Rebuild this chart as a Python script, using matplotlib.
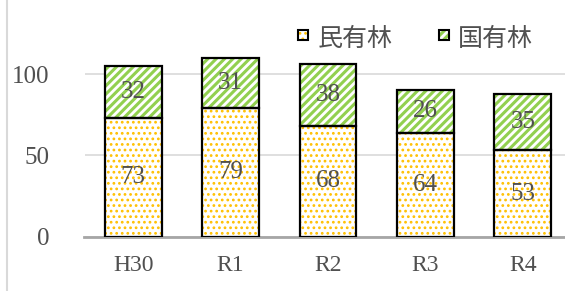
import matplotlib
matplotlib.use('Agg')
import matplotlib.pyplot as plt
from matplotlib.patches import Rectangle
from matplotlib.lines import Line2D

categories = ['H30', 'R1', 'R2', 'R3', 'R4']
private = [73, 79, 68, 64, 53]
national = [32, 31, 38, 26, 35]
series_names = ['民有林', '国有林']

plt.rcParams['font.family'] = ['Liberation Serif', 'Noto Sans CJK JP']

TXT = '#505050'
YEL = '#FFC000'
GRN = '#92D050'
DOT_LW = 1.2
STRIPE_LW = 2.2

W, H = 565, 291
fig = plt.figure(figsize=(W / 100, H / 100), dpi=100)
left, right, bottom, top = 84.5, 571.5, 236.7, 41.5
ax = fig.add_axes([left / W, 1 - bottom / H, (right - left) / W, (bottom - top) / H])


def set_hlw(patches, lw):
    for p in patches:
        if hasattr(p, 'set_hatch_linewidth'):
            p.set_hatch_linewidth(lw)
        p._hatch_linewidth = lw


x = list(range(len(categories)))
bw = 0.585
plt.rcParams['hatch.linewidth'] = DOT_LW
b1 = ax.bar(x, private, bw, color='white', edgecolor=YEL, hatch='...', linewidth=0, zorder=3)
set_hlw(b1.patches, DOT_LW)
plt.rcParams['hatch.linewidth'] = STRIPE_LW
b2 = ax.bar(x, national, bw, bottom=private, color='white', edgecolor=GRN, hatch='////', linewidth=0, zorder=3)
set_hlw(b2.patches, STRIPE_LW)
ax.bar(x, private, bw, fill=False, edgecolor='black', linewidth=1.6, zorder=4)
ax.bar(x, national, bw, bottom=private, fill=False, edgecolor='black', linewidth=1.6, zorder=4)

for i in x:
    ax.text(i, private[i] / 2, str(private[i]), ha='center', va='center', fontsize=18, color=TXT, zorder=5)
    ax.text(i, private[i] + national[i] / 2, str(national[i]), ha='center', va='center', fontsize=18, color=TXT, zorder=5)

ax.set_xlim(-0.5, len(categories) - 0.5)
ax.set_ylim(0, 120)
ax.set_yticks([0, 50, 100])
ax.set_xticks(x)
ax.set_xticklabels(categories)
ax.tick_params(axis='y', length=0, pad=25, labelsize=18, labelcolor=TXT)
ax.tick_params(axis='x', length=0, pad=13, labelsize=17, labelcolor=TXT)
for s in ['top', 'right', 'left']:
    ax.spines[s].set_visible(False)
ax.spines['bottom'].set_color('#A6A6A6')
ax.spines['bottom'].set_linewidth(2)
ax.spines['bottom'].set_zorder(2)
ax.yaxis.grid(True, color='#D9D9D9', linewidth=1.2, zorder=1)
ax.set_axisbelow(True)

# legend drawn in figure pixel coordinates
legend_items = [(298, 318, YEL, '...', DOT_LW), (439, 458, GRN, '////', STRIPE_LW)]
for (mx, tx, col, ht, hlw), name in zip(legend_items, series_names):
    plt.rcParams['hatch.linewidth'] = hlw
    r1 = Rectangle((mx / W, 1 - 40 / H), 10 / W, 10 / H, transform=fig.transFigure,
                   facecolor='white', edgecolor=col, hatch=ht, linewidth=0)
    set_hlw([r1], hlw)
    r2 = Rectangle((mx / W, 1 - 40 / H), 10 / W, 10 / H, transform=fig.transFigure,
                   fill=False, edgecolor='black', linewidth=1.5)
    fig.add_artist(r1)
    fig.add_artist(r2)
    fig.text(tx / W, 1 - 39 / H, name, ha='left', va='center', fontsize=18, color=TXT)

fig.add_artist(Line2D([6.5 / W, 6.5 / W], [0, 1], transform=fig.transFigure, color='#D9D9D9', linewidth=1.5))

fig.savefig('out.png', dpi=100)
